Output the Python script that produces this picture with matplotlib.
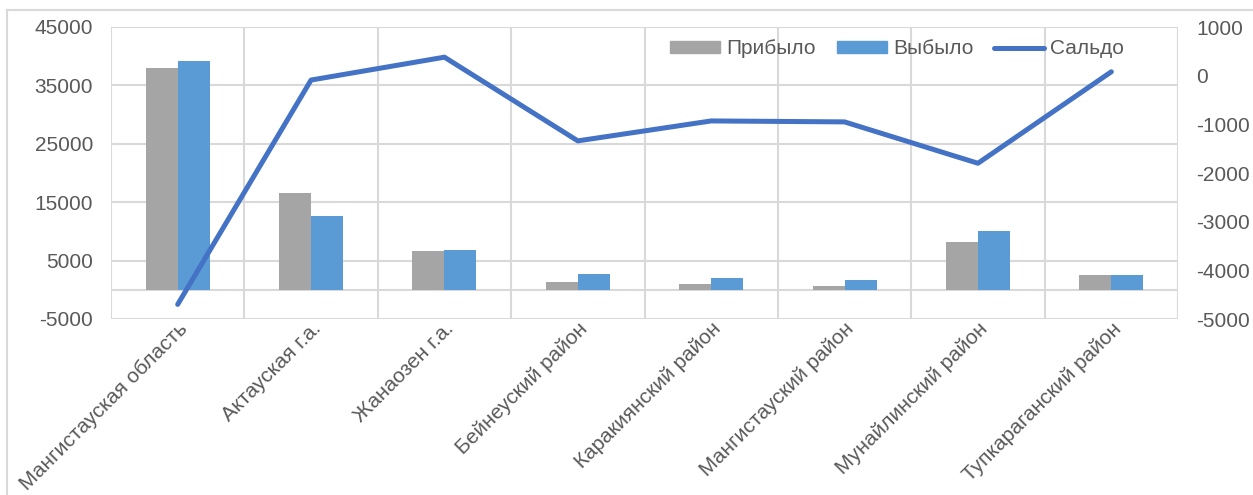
import numpy as np
import matplotlib.pyplot as plt
from matplotlib.lines import Line2D

plt.rcParams['font.family'] = ['Liberation Sans', 'DejaVu Sans']
plt.rcParams['axes.unicode_minus'] = False

# данные
categories = ["Мангистауская область", "Актауская г.а.", "Жанаозен г.а.",
              "Бейнеуский район", "Каракиянский район", "Мангистауский район",
              "Мунайлинский район", "Тупкараганский район"]
arrived = [38000, 16500, 6700, 1400, 1000, 700, 8200, 2500]
departed = [39200, 12700, 6800, 2700, 2000, 1700, 10100, 2500]
balance = [-4700, -90, 380, -1340, -930, -950, -1800, 80]

left_ticks = [-5000, 5000, 15000, 25000, 35000, 45000]
right_ticks = [-5000, -4000, -3000, -2000, -1000, 0, 1000]

c_gray = "#A5A5A5"
c_bar = "#5B9BD5"
c_line = "#4472C4"
c_text = "#595959"
c_grid = "#D9D9D9"

W, H = 1253, 495
fig = plt.figure(figsize=(W / 100, H / 100), dpi=100)
ax = fig.add_axes([111 / W, 1 - 319 / H, (1178 - 111) / W, (319 - 27) / H])

x = np.arange(len(categories))
bw = 0.24
ax.bar(x - bw / 2, arrived, bw, color=c_gray, zorder=2)
ax.bar(x + bw / 2, departed, bw, color=c_bar, zorder=2)

ax.set_xlim(-0.5, len(categories) - 0.5)
ax.set_ylim(-5000, 45000)
ax.set_yticks(left_ticks)
ax.set_xticks(x)
ax.set_xticklabels(categories, rotation=45, ha="right", va="top",
                   rotation_mode="anchor", fontsize=15, color=c_text)
ax.set_xticks(np.arange(-0.5, len(categories)), minor=True)

ax.grid(True, axis="y", color=c_grid, linewidth=1.5, zorder=0)
ax.grid(True, axis="x", which="minor", color=c_grid, linewidth=1.5, zorder=0)
ax.grid(False, axis="x", which="major")
ax.axhline(0, color=c_grid, linewidth=1.5, zorder=1)
for s in ax.spines.values():
    s.set_visible(False)
ax.tick_params(axis="y", length=0, pad=13, labelsize=15, labelcolor=c_text)
ax.tick_params(axis="x", which="both", length=0, pad=0)
for lbl in ax.get_xticklabels():
    lbl.set_x(lbl.get_position()[0] + 0.04)

ax2 = ax.twinx()
ax2.plot(x, balance, color=c_line, linewidth=3.6, solid_capstyle="round", zorder=3)
ax2.set_ylim(-5000, 1000)
ax2.set_yticks(right_ticks)
for s in ax2.spines.values():
    s.set_visible(False)
ax2.tick_params(axis="y", length=0, pad=13, labelsize=15, labelcolor=c_text)

# легенда
handles = [plt.Rectangle((0, 0), 1, 1, color=c_gray),
           plt.Rectangle((0, 0), 1, 1, color=c_bar),
           Line2D([0], [0], color=c_line, linewidth=3.6, solid_capstyle="round")]
fig.legend(handles, ["Прибыло", "Выбыло", "Сальдо"], loc="center",
           bbox_to_anchor=(897 / W, 1 - 49 / H), ncol=3, frameon=False,
           fontsize=15, labelcolor=c_text, handlelength=2.4, handleheight=0.5,
           handletextpad=0.3, columnspacing=1.0)

# рамка диаграммы
fig.add_artist(Line2D([7 / W, 7 / W], [0, 1 - 10 / H], color=c_grid, linewidth=1.5))
fig.add_artist(Line2D([7 / W, 1], [1 - 10 / H, 1 - 10 / H], color=c_grid, linewidth=1.5))

fig.savefig("out.png", dpi=100)
